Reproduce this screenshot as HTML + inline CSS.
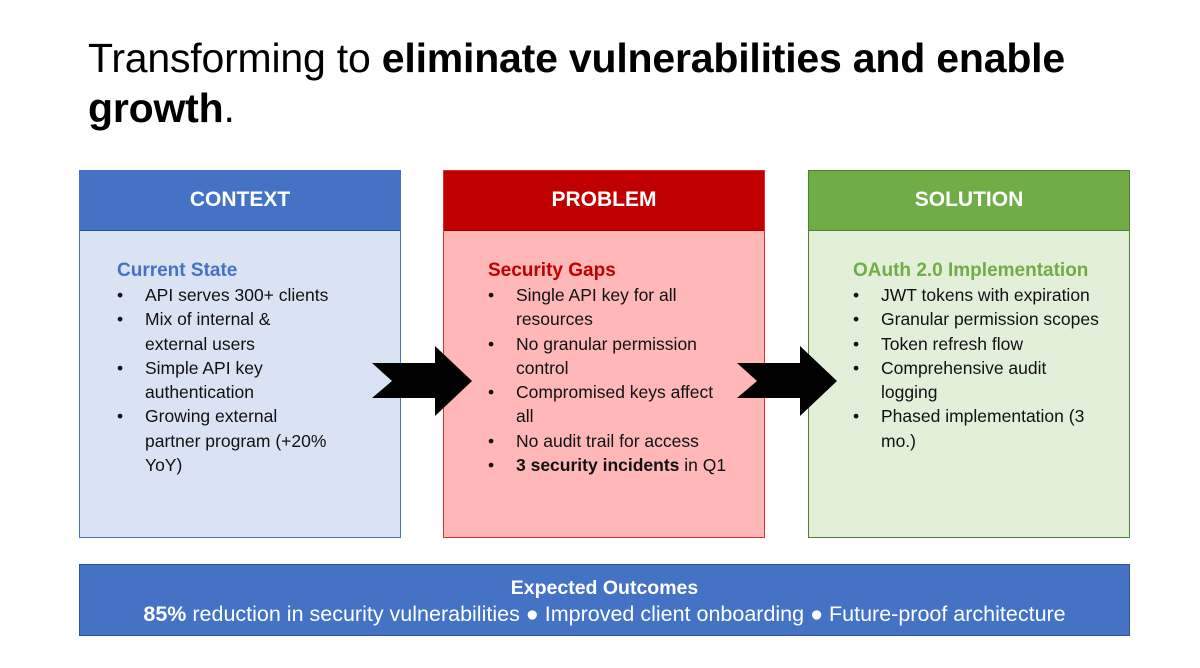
<!DOCTYPE html>
<html><head><meta charset="utf-8"><style>
body{margin:0;width:1200px;height:668px;background:#fff;position:relative;font-family:"Liberation Sans",sans-serif;overflow:hidden}
.t{position:absolute;left:88px;top:33px;font-size:41px;line-height:50px;color:#000;letter-spacing:-0.2px;white-space:nowrap}
.box{position:absolute;top:170px;width:322px;height:368px;box-sizing:border-box}
.hd{height:60px;line-height:58px;text-align:center;color:#fff;font-weight:bold;font-size:21px;box-sizing:border-box}
.bd{padding:28px 0 0 37px;font-size:17.5px;line-height:24.3px;color:#111;white-space:nowrap}
.bd h4{margin:0;font-size:19px;line-height:24px}
ul{margin:0;padding:0;list-style:none}
li{position:relative;padding-left:28px}
li:before{content:"•";position:absolute;left:0}
.bar{position:absolute;left:79px;top:564px;width:1051px;height:72px;background:#4472c4;border:1px solid #2f528f;box-sizing:border-box;color:#fff;text-align:center;font-size:21.5px;white-space:nowrap}
</style></head><body>
<div class="t">Transforming to <b>eliminate vulnerabilities and enable<br>growth</b>.</div>

<div class="box" style="left:79px;background:#dae3f3;border:1px solid #4472c4">
<div class="hd" style="background:#4472c4;border-bottom:1px solid #2f528f">CONTEXT</div>
<div class="bd"><h4 style="color:#4472c4">Current State</h4><ul>
<li>API serves 300+ clients</li><li>Mix of internal &amp;<br>external users</li><li>Simple API key<br>authentication</li><li>Growing external<br>partner program (+20%<br>YoY)</li></ul></div></div>

<div class="box" style="left:443px;background:#ffb7b7;border:1px solid #e03030">
<div class="hd" style="background:#c00000;border-bottom:1px solid #900">PROBLEM</div>
<div class="bd" style="padding-left:44px"><h4 style="color:#c00000">Security Gaps</h4><ul>
<li>Single API key for all<br>resources</li><li>No granular permission<br>control</li><li>Compromised keys affect<br>all</li><li>No audit trail for access</li><li><b>3 security incidents</b> in Q1</li></ul></div></div>

<div class="box" style="left:808px;background:#e2f0d9;border:1px solid #507e32">
<div class="hd" style="background:#70ad47;border-bottom:1px solid #507e32">SOLUTION</div>
<div class="bd" style="padding-left:44px"><h4 style="color:#70ad47">OAuth 2.0 Implementation</h4><ul>
<li>JWT tokens with expiration</li><li>Granular permission scopes</li><li>Token refresh flow</li><li>Comprehensive audit<br>logging</li><li>Phased implementation (3<br>mo.)</li></ul></div></div>

<svg width="1200" height="668" style="position:absolute;left:0;top:0">
<polygon points="372,363 435,363 435,346 472,381 435,416 435,398 372,398 392,381" fill="#000"/>
<polygon points="737,363 800,363 800,346 837,381 800,416 800,398 737,398 757,381" fill="#000"/>
</svg>

<div class="bar"><div style="font-weight:bold;margin-top:11px;line-height:24px;font-size:19.5px">Expected Outcomes</div>
<div style="line-height:28px"><b>85%</b> reduction in security vulnerabilities ● Improved client onboarding ● Future-proof architecture</div></div>
</body></html>
